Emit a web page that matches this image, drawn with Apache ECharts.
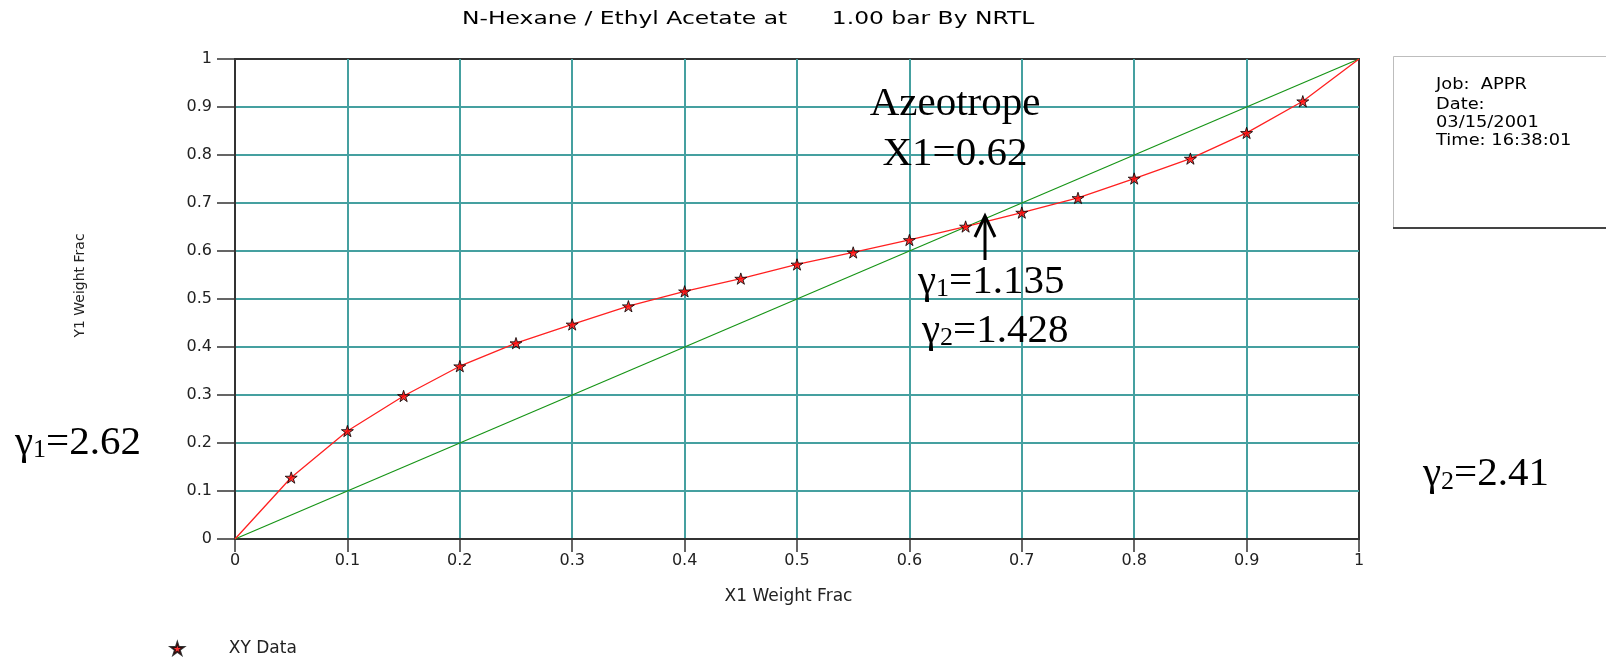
<!DOCTYPE html>
<html><head><meta charset="utf-8">
<script src="https://cdn.jsdelivr.net/npm/echarts@6/dist/echarts.min.js"></script>
<style>html,body{margin:0;padding:0;background:#fff}#c{width:1606px;height:657px}</style>
</head><body><div id="c"></div>
<script>
const titleText = 'N-Hexane / Ethyl Acetate at      1.00 bar By NRTL';
const xName = 'X1 Weight Frac';
const yName = 'Y1 Weight Frac';
const seriesName = 'XY Data';
const curveX = [0, 0.05, 0.1, 0.15, 0.2, 0.25, 0.3, 0.35, 0.4, 0.45, 0.5, 0.55, 0.6, 0.65, 0.7, 0.75, 0.8, 0.85, 0.9, 0.95, 1];
const curveY = [0, 0.128, 0.225, 0.298, 0.36, 0.408, 0.447, 0.485, 0.516, 0.5425, 0.572, 0.597, 0.623, 0.651, 0.68, 0.7105, 0.751, 0.7925, 0.846, 0.912, 1];
const diagX = [0, 1];
const diagY = [0, 1];
const infoLines = ['Job:  APPR', 'Date:', '03/15/2001', 'Time: 16:38:01'];
const azeoLines = ['Azeotrope', 'X1=0.62'];

const SANS = 'DejaVu Sans';
const SERIF = 'Liberation Serif';
const star = 'path://M50,0 L61,35 L98,35 L68,57 L79,91 L50,70 L21,91 L32,57 L2,35 L39,35 Z';

const chart = echarts.init(document.getElementById('c'));

function txt(x, y, text, size, family, opts) {
  opts = opts || {};
  return {
    type: 'text', x: x, y: y, scaleX: opts.scaleX || 1, z: 10,
    style: {
      text: text, fill: '#000', fontSize: size, fontFamily: family,
      textAlign: opts.align || 'left', align: opts.align || 'left',
      textVerticalAlign: 'middle', verticalAlign: 'middle'
    }
  };
}
function gam(x, y, idx, val) {
  return {
    type: 'text', x: x, y: y, z: 10,
    style: {
      text: '{g|γ}{s|' + idx + '}{g|=' + val + '}',
      textAlign: 'left', align: 'left', textVerticalAlign: 'middle', verticalAlign: 'middle',
      fill: '#000',
      rich: {
        g: { fontSize: 41, fontFamily: SERIF, lineHeight: 41, fill: '#000', color: '#000' },
        s: { fontSize: 26, fontFamily: SERIF, lineHeight: 16, verticalAlign: 'bottom', fill: '#000', color: '#000' }
      }
    }
  };
}

const graphics = [
  txt(462, 19.5, titleText, 18, SANS, { scaleX: 1.3 }),
  { type: 'rect', z: 5, shape: { x: 1393.5, y: 56.5, width: 240, height: 171 }, style: { fill: '#fff', stroke: '#bdbdbd', lineWidth: 1 } },
  { type: 'line', z: 6, shape: { x1: 1393, y1: 228, x2: 1606, y2: 228 }, style: { stroke: '#444', lineWidth: 2 } },
  txt(955, 104.5, azeoLines[0], 41, SERIF, { align: 'center' }),
  txt(955, 154.5, azeoLines[1], 41, SERIF, { align: 'center' }),
  gam(918, 282, 1, '1.135'),
  gam(922, 331, 2, '1.428'),
  gam(15, 443, 1, '2.62'),
  gam(1423, 474.5, 2, '2.41'),
  { type: 'line', z: 10, shape: { x1: 985, y1: 260, x2: 985, y2: 217 }, style: { stroke: '#000', lineWidth: 3 } },
  { type: 'polyline', z: 10, shape: { points: [[975, 237], [985, 216], [995, 237]] }, style: { stroke: '#000', lineWidth: 3, fill: null } }
];
infoLines.forEach(function (s, i) {
  graphics.push(txt(1436, [85, 104.5, 122.5, 140.5][i], s, 15.5, SANS, { scaleX: 1.15 }));
});

const axisCommon = {
  type: 'value', min: 0, max: 1, interval: 0.1,
  nameLocation: 'middle',
  axisLine: { show: true, onZero: false, lineStyle: { color: '#333', width: 2 } },
  axisLabel: { fontFamily: SANS, fontSize: 16, color: '#222' },
  splitLine: { show: true, showMinLine: false, showMaxLine: false, lineStyle: { color: '#45a0a0', width: 2 } }
};

chart.setOption({
  animation: false,
  backgroundColor: '#fff',
  grid: { left: 235, right: 247, top: 59, bottom: 118, show: true, borderColor: '#333', borderWidth: 2, backgroundColor: '#fff', outerBoundsMode: 'none', containLabel: false },
  legend: {
    data: [seriesName], left: 170, top: 640, padding: 0,
    itemWidth: 93, itemHeight: 12,
    textStyle: { fontFamily: SANS, fontSize: 17, color: '#222' }
  },
  xAxis: Object.assign({}, axisCommon, {
    name: xName, nameGap: 49,
    nameTextStyle: { fontFamily: SANS, fontSize: 17, color: '#222', padding: [0, 17, 0, 0] },
    axisTick: { show: true, length: 13, lineStyle: { color: '#333', width: 1.5 } },
    axisLabel: Object.assign({}, axisCommon.axisLabel, { margin: 14 })
  }),
  yAxis: Object.assign({}, axisCommon, {
    name: yName, nameGap: 148,
    nameTextStyle: { fontFamily: SANS, fontSize: 14, color: '#222', padding: [0, 0, 0, 27] },
    axisTick: { show: true, length: 18, lineStyle: { color: '#333', width: 1.5 } },
    axisLabel: Object.assign({}, axisCommon.axisLabel, { margin: 23 })
  }),
  graphic: { elements: graphics },
  series: [
    {
      type: 'line', name: 'diag', data: diagX.map(function (x, i) { return [x, diagY[i]]; }),
      symbol: 'none', lineStyle: { color: '#169416', width: 1.2 }, z: 2, silent: true
    },
    {
      type: 'line', name: 'curve', data: curveX.map(function (x, i) { return [x, curveY[i]]; }),
      symbol: 'none', showSymbol: false, lineStyle: { color: '#ff2020', width: 1.3 }, z: 3, silent: true
    },
    {
      type: 'scatter', name: seriesName,
      data: curveX.slice(1, -1).map(function (x, i) { return [x, curveY[i + 1]]; }),
      symbol: star, symbolSize: 12, symbolKeepAspect: true,
      itemStyle: { color: '#ff0000', borderColor: '#000', borderWidth: 1 }, z: 4
    }
  ]
});
</script></body></html>
